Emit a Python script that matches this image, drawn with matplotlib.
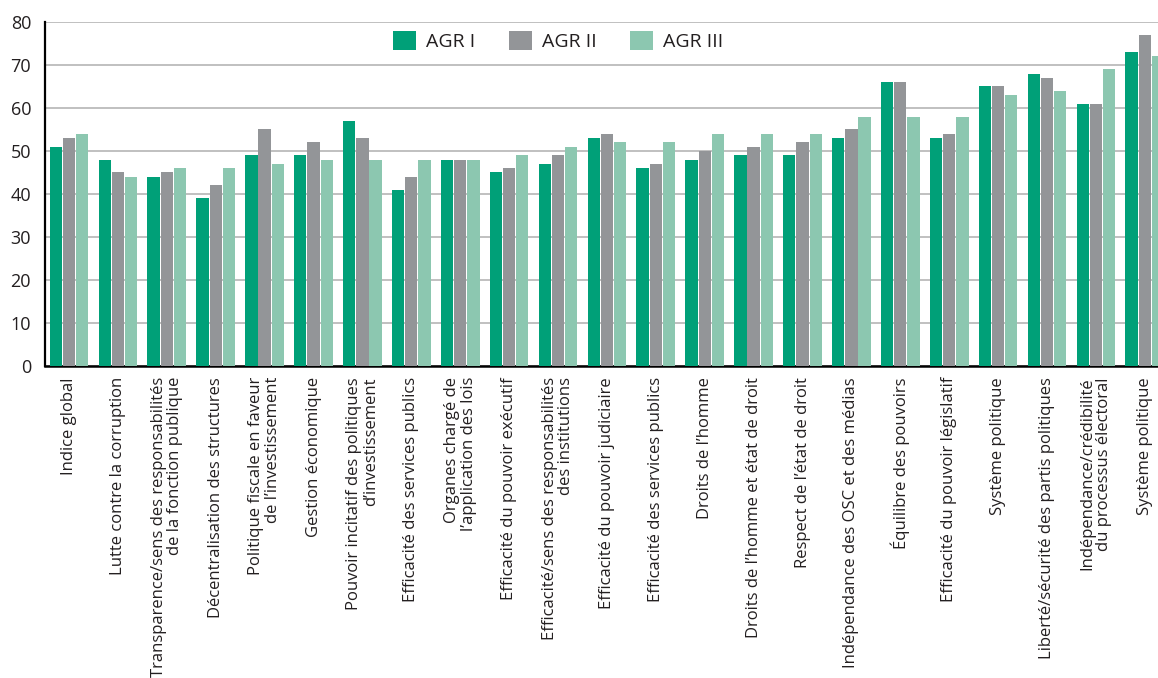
import matplotlib
matplotlib.use("Agg")
import matplotlib.pyplot as plt
import numpy as np

plt.rcParams['font.family'] = ['Open Sans', 'DejaVu Sans']

categories = [
    "Indice global",
    "Lutte contre la corruption",
    "Transparence/sens des responsabilités\nde la fonction publique",
    "Décentralisation des structures",
    "Politique fiscale en faveur\nde l’investissement",
    "Gestion économique",
    "Pouvoir incitatif des politiques\nd’investissement",
    "Efficacité des services publics",
    "Organes chargé de\nl’application des lois",
    "Efficacité du pouvoir exécutif",
    "Efficacité/sens des responsabilités\ndes institutions",
    "Efficacité du pouvoir judiciaire",
    "Efficacité des services publics",
    "Droits de l’homme",
    "Droits de l’homme et état de droit",
    "Respect de l’état de droit",
    "Indépendance des OSC et des médias",
    "Équilibre des pouvoirs",
    "Efficacité du pouvoir législatif",
    "Système politique",
    "Liberté/sécurité des partis politiques",
    "Indépendance/crédibilité\ndu processus électoral",
    "Système politique",
]

agr1 = [51, 48, 44, 39, 49, 49, 57, 41, 48, 45, 47, 53, 46, 48, 49, 49, 53, 66, 53, 65, 68, 61, 73]
agr2 = [53, 45, 45, 42, 55, 52, 53, 44, 48, 46, 49, 54, 47, 50, 51, 52, 55, 66, 54, 65, 67, 61, 77]
agr3 = [54, 44, 46, 46, 47, 48, 48, 48, 48, 49, 51, 52, 52, 54, 54, 54, 58, 58, 58, 63, 64, 69, 72]

series_names = ["AGR I", "AGR II", "AGR III"]
colors = ["#00a078", "#939598", "#8cc7b0"]
yticks = [0, 10, 20, 30, 40, 50, 60, 70, 80]

fig = plt.figure(figsize=(11.58, 6.78), dpi=100)
ax = fig.add_axes([45 / 1158, 1 - 366 / 678, 1 - 45 / 1158, 344 / 678])

x = np.arange(len(categories))
step = 0.27
width = 0.25
for k, (vals, name, col) in enumerate(zip([agr1, agr2, agr3], series_names, colors)):
    ax.bar(x + (k - 1) * step, vals, width=width, color=col, label=name,
           linewidth=0, zorder=3)

ax.set_ylim(0, 80)
ax.set_xlim(-0.491, 22.27)
ax.set_yticks(yticks)
ax.set_yticklabels([str(v) for v in yticks], fontsize=13, color="#231f20")
ax.yaxis.grid(True, color="#b5b5b5", linewidth=1.2, zorder=0)
ax.set_axisbelow(True)

ax.set_xticks(x)
ax.set_xticklabels(categories, rotation=90, fontsize=12.0, color="#231f20",
                   ha="center", va="top", multialignment="right",
                   linespacing=1.05)
ax.tick_params(axis="both", length=0)
ax.tick_params(axis="x", pad=8)
ax.tick_params(axis="y", pad=10)

for side in ["top", "right"]:
    ax.spines[side].set_visible(False)
ax.spines["left"].set_color("#000000")
ax.spines["left"].set_linewidth(1.6)
ax.spines["bottom"].set_color("#000000")
ax.spines["bottom"].set_linewidth(1.8)

leg = ax.legend(loc="center", bbox_to_anchor=(0.461, 0.945), ncol=3, frameon=False,
                fontsize=14, handlelength=1.18, handleheight=1.18,
                handletextpad=0.5, columnspacing=1.75, borderpad=0.2)
for t in leg.get_texts():
    t.set_color("#231f20")

fig.savefig("out.png", dpi=100)
